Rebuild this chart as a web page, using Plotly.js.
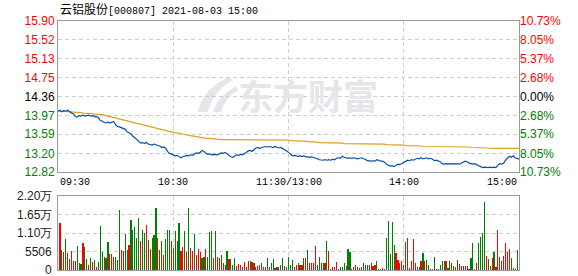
<!DOCTYPE html>
<html><head><meta charset="utf-8">
<script src="https://cdn.plot.ly/plotly-3.0.1.min.js"></script>
<style>html,body{margin:0;padding:0;background:#fff;}#chart{width:578px;height:276px;}</style>
</head><body><div id="chart"></div>
<script>
// ---------- data ----------
const titleName = "云铝股份";
const titleCode = "[000807] 2021-08-03 15:00";
const watermarkText = "东方财富";
const preClose = 14.36;

const timeTickIdx = [0, 60, 120, 180, 240];
const timeTickText = ["09:30", "10:30", "11:30/13:00", "14:00", "15:00"];

const priceTicks = [12.82, 13.20, 13.59, 13.97, 14.36, 14.75, 15.13, 15.52, 15.90];
const pctTickText = ["10.73%", "8.05%", "5.37%", "2.68%", "0.00%", "2.68%", "5.37%", "8.05%", "10.73%"];

const volTicks = [0, 5506, 11012, 16518, 22024];
const volTickText = ["0", "5506", "1.10万", "1.65万", "2.20万"];

const price = [
14.06,14.08,14.05,14.07,14.06,14.08,14.05,14.02,14.01,13.95,
13.94,13.97,13.96,13.98,13.96,13.97,13.98,13.96,13.97,13.95,
13.95,13.93,13.87,13.86,13.83,13.82,13.84,13.82,13.83,13.85,
13.78,13.75,13.74,13.72,13.71,13.69,13.64,13.62,13.60,13.55,
13.52,13.49,13.45,13.41,13.42,13.40,13.42,13.39,13.38,13.37,
13.39,13.37,13.36,13.35,13.32,13.33,13.31,13.24,13.20,13.19,
13.17,13.15,13.16,13.14,13.11,13.13,13.15,13.16,13.15,13.17,
13.16,13.18,13.21,13.20,13.22,13.26,13.24,13.20,13.18,13.19,
13.17,13.18,13.18,13.17,13.19,13.21,13.20,13.22,13.19,13.16,
13.13,13.12,13.14,13.17,13.16,13.18,13.17,13.19,13.22,13.25,
13.26,13.24,13.27,13.31,13.32,13.30,13.32,13.33,13.34,13.33,
13.34,13.33,13.32,13.34,13.33,13.31,13.32,13.30,13.28,13.25,
13.22,13.18,13.15,13.16,13.15,13.14,13.15,13.14,13.15,13.13,
13.13,13.12,13.13,13.12,13.11,13.09,13.07,13.06,13.06,13.07,
13.06,13.07,13.06,13.08,13.07,13.10,13.11,13.10,13.14,13.12,
13.11,13.10,13.11,13.10,13.11,13.10,13.09,13.10,13.11,13.09,
13.08,13.05,13.04,13.04,13.05,13.04,13.07,13.05,13.04,13.04,
13.02,12.98,12.96,12.94,12.95,12.93,12.96,12.98,12.97,12.99,
13.02,13.03,13.06,13.05,13.07,13.06,13.08,13.10,13.09,13.11,
13.09,13.10,13.11,13.09,13.10,13.08,13.05,13.06,13.04,13.03,
12.99,12.98,12.99,12.98,12.99,12.98,12.99,12.98,12.99,12.98,
13.00,13.02,13.04,13.03,13.00,12.99,12.98,12.99,12.97,12.94,
12.92,12.91,12.92,12.91,12.91,12.92,12.91,12.92,12.91,12.96,
12.99,12.98,13.00,13.06,13.10,13.14,13.12,13.15,13.11,13.09,
13.08];

const avgPrice = [
14.06,14.06,14.06,14.06,14.06,14.05,14.05,14.05,14.04,14.04,
14.03,14.03,14.03,14.02,14.02,14.02,14.01,14.01,14.01,14.00,
14.00,14.00,13.99,13.99,13.98,13.97,13.96,13.95,13.94,13.93,
13.92,13.91,13.91,13.90,13.89,13.88,13.87,13.86,13.85,13.84,
13.83,13.82,13.81,13.80,13.79,13.78,13.77,13.76,13.75,13.74,
13.73,13.72,13.71,13.70,13.69,13.68,13.67,13.66,13.65,13.64,
13.63,13.62,13.62,13.61,13.60,13.59,13.58,13.58,13.57,13.56,
13.55,13.55,13.54,13.53,13.52,13.52,13.51,13.51,13.50,13.50,
13.50,13.49,13.49,13.49,13.48,13.48,13.48,13.48,13.47,13.47,
13.47,13.47,13.47,13.47,13.47,13.47,13.47,13.47,13.47,13.47,
13.47,13.47,13.47,13.47,13.47,13.47,13.47,13.47,13.47,13.47,
13.47,13.47,13.47,13.47,13.47,13.47,13.47,13.47,13.47,13.47,
13.47,13.46,13.46,13.46,13.46,13.46,13.45,13.45,13.45,13.45,
13.44,13.44,13.44,13.43,13.43,13.43,13.42,13.42,13.42,13.42,
13.42,13.41,13.41,13.41,13.41,13.41,13.41,13.41,13.41,13.40,
13.40,13.40,13.40,13.40,13.40,13.40,13.40,13.40,13.40,13.40,
13.40,13.40,13.40,13.40,13.40,13.39,13.39,13.39,13.39,13.39,
13.39,13.38,13.38,13.38,13.38,13.38,13.38,13.37,13.37,13.37,
13.37,13.36,13.36,13.36,13.36,13.36,13.35,13.35,13.35,13.35,
13.34,13.34,13.34,13.34,13.34,13.34,13.34,13.34,13.34,13.34,
13.34,13.34,13.34,13.34,13.34,13.33,13.33,13.33,13.33,13.33,
13.33,13.33,13.33,13.33,13.33,13.32,13.32,13.32,13.32,13.32,
13.32,13.32,13.31,13.31,13.31,13.30,13.30,13.30,13.30,13.30,
13.30,13.30,13.30,13.30,13.30,13.30,13.30,13.30,13.30,13.30,
13.30];

const volume = [
0,
14000,6000,5300,9200,5000,3300,5700,2800,2800,7100,2100,1800,8000,6900,3300,1500,3600,2400,3000,1000,
2400,13100,5400,4000,3600,8400,4800,4800,4000,3800,3100,17900,6100,5700,10800,6100,7500,14900,11900,
12900,9500,15500,8700,11900,10900,13400,8900,6200,9600,10400,18500,9600,6100,8600,4600,9200,11900,11800,8700,
6500,11700,8600,13900,5700,6900,11500,5500,18600,6600,5700,10700,4400,6400,5400,3600,3900,6200,3800,11400,
11700,3600,
11700,3970,3570,4560,2180,1590,5750,3170,3170,1390,3570,1190,1790,1590,990,2380,990,2780,2580,2380,
1980,790,1190,1590,2180,790,790,3570,790,1980,3170,600,790,990,1590,3570,1190,990,3800,
1490,2980,1010,1390,2180,1390,1390,3470,3470,5950,
2180,2180,2180,7140,1390,3770,2180,1980,1980,8630,
5650,300,1010,800,2380,300,1010,1010,1980,1290,
6250,5360,400,1010,1390,1010,500,1010,1980,1390,
1590,1390,1980,1290,1490,2580,300,300,600,400,
9520,14580,4760,14290,7500,5160,2980,2180,2680,1490,
8230,9520,500,2680,9230,2180,1010,1010,2680,4960,
2680,2980,1490,200,200,3770,400,200,1390,2680,
2680,2580,700,2780,1980,1290,990,2980,1790,1090,
1190,1090,1090,300,3570,8040,400,2080,7940,9720,
11100,20300,4270,3170,1290,3570,5260,990,11900,3770,
2780,4270,7940,5460,6350,3570,600,300,6050,0];

// R = up minute (red), G = down minute (green)
const volumeDir = ("G" +
 "RGRGRGRRRGGGRGGRGRGRGGGRGGRRRGGGRRGGRGG" +
 "GGGRGGRGRGGGRRGRGGGRGGGGRRGRGRRGRRRGGRGGGR" +
 "GRRGRRGRGGGRRRGRRRRGRRRRGRRGRGGRGRGGRGG" +
 "GGRRGRRGRG" + "RRRRGGGGRG" + "RRRRRRGGGR" + "GGGRRGRRGG" +
 "RRGRRGRRRR" + "GGGGGRRRRR" + "GRRRRRGGRG" + "RGGRRGRRGG" +
 "GRGGRGRGRR" + "RRRGGGGRGG" + "GGRGRRGRRR" + "GRRRRGRRGG").split("");

// ---------- build ----------
const idx = price.map((_, i) => i);
const RED = "#ff0000", GREEN = "#008000", DARK = "#000000";
const colFor = v => v > preClose ? RED : (v < preClose ? GREEN : DARK);
const priceTickText = priceTicks.map(v => `<span style="color:${colFor(v)}">${v.toFixed(2)}</span>`);
const pctText = priceTicks.map((v, k) => `<span style="color:${colFor(v)}">${pctTickText[k]}</span>`);
const barColors = volumeDir.map(d => d === "R" ? RED : GREEN);

const W = 578, H = 276, L = 58, R = 59, T = 21, B = 6;
const plotW = W - L - R, plotH = H - T - B;
const px2x = px => (px - L) / plotW;
const py2y = py => (H - B - py) / plotH;
const priceDomain = [py2y(172), 1];
const volDomain = [0, py2y(196)];

const gridCol = "#cfcfcf", gridDash = "4px,3px", lineCol = "#9a9a9a";
const tickFont = {family: "Liberation Sans, Arial, sans-serif", size: 12, color: "#111"};

const traces = [
  {x: idx, y: avgPrice, type: "scatter", mode: "lines", xaxis: "x", yaxis: "y",
   line: {color: "#e0a020", width: 1.2}, hoverinfo: "skip"},
  {x: idx, y: price, type: "scatter", mode: "lines", xaxis: "x", yaxis: "y",
   line: {color: "#0b4fa3", width: 1.2}, hoverinfo: "skip"},
  {x: [0], y: [preClose], type: "scatter", mode: "markers", xaxis: "x", yaxis: "y2",
   marker: {opacity: 0}, hoverinfo: "skip"},
  {x: idx, y: volume, type: "bar", xaxis: "x2", yaxis: "y3", width: 0.6,
   marker: {color: barColors, line: {width: 0}}, hoverinfo: "skip"}
];

const annotations = [
  {xref: "paper", yref: "paper", x: 0, y: py2y(8), xanchor: "left", yanchor: "middle", showarrow: false,
   text: `<span style="font-family:'Noto Sans CJK SC';font-size:12px">${titleName}</span>${titleCode}`,
   font: {family: "Liberation Mono, monospace", size: 10, color: "#000"}},
  {xref: "paper", yref: "paper", x: px2x(308), y: py2y(94), xanchor: "center", yanchor: "middle", showarrow: false,
   text: `<b>${watermarkText}</b>`, font: {family: "Noto Sans CJK SC", size: 35, color: "#e6e6ea"}}
];
timeTickIdx.forEach((t, k) => {
  annotations.push({xref: "x", yref: "paper", x: t, y: py2y(182), showarrow: false,
    xanchor: k === 0 ? "left" : (k === timeTickIdx.length - 1 ? "right" : "center"), yanchor: "middle",
    text: timeTickText[k], font: {family: "Liberation Mono, monospace", size: 10, color: "#000"}});
});
volTicks.forEach((v, k) => {
  annotations.push({xref: "paper", yref: "y3", x: 0, y: v, xshift: -4, showarrow: false,
    xanchor: "right", yanchor: "middle", text: volTickText[k],
    font: {family: tickFont.family, size: 12, color: "#222"}});
});

const logoPaths = [
  [[198,112],[202,89],[229,77],[233,80],[212,92],[208,112]],
  [[213,112],[217,97],[236,86],[238,90],[224,99],[221,112]]
];
const shapes = logoPaths.map(p => ({
  type: "path", xref: "paper", yref: "paper", layer: "below",
  path: `M ${px2x(p[0][0])},${py2y(p[0][1])} Q ${px2x(p[1][0])},${py2y(p[1][1])} ${px2x(p[2][0])},${py2y(p[2][1])} ` +
        `L ${px2x(p[3][0])},${py2y(p[3][1])} Q ${px2x(p[4][0])},${py2y(p[4][1])} ${px2x(p[5][0])},${py2y(p[5][1])} Z`,
  fillcolor: "#e6e6ea", line: {width: 0}
}));

const xCommon = {range: [0, 240], tickvals: [60, 120, 180], showticklabels: false, ticks: "",
  showgrid: true, gridcolor: gridCol, griddash: gridDash, zeroline: false,
  showline: true, mirror: true, linecolor: lineCol, linewidth: 1, fixedrange: true};

const layout = {
  width: W, height: H, margin: {l: L, r: R, t: T, b: B, pad: 0},
  paper_bgcolor: "#fff", plot_bgcolor: "#fff", showlegend: false, bargap: 0,
  font: tickFont,
  xaxis: Object.assign({}, xCommon, {domain: [0, 1], anchor: "y"}),
  xaxis2: Object.assign({}, xCommon, {domain: [0, 1], anchor: "y3"}),
  yaxis: {domain: priceDomain, anchor: "x", range: [12.82, 15.90], tickvals: priceTicks, ticktext: priceTickText,
    tickfont: tickFont, ticks: "", ticklabeloverflow: "allow", showgrid: true, gridcolor: gridCol, griddash: gridDash,
    zeroline: false, showline: true, mirror: true, linecolor: lineCol, linewidth: 1},
  yaxis2: {overlaying: "y", side: "right", anchor: "x", range: [12.82, 15.90], tickvals: priceTicks, ticktext: pctText,
    tickfont: tickFont, ticks: "", ticklabeloverflow: "allow", showgrid: false, zeroline: false, showline: false},
  yaxis3: {domain: volDomain, anchor: "x2", range: [0, 22024], tickvals: volTicks, showticklabels: false,
    ticks: "", showgrid: true, gridcolor: gridCol, griddash: gridDash, zeroline: false,
    showline: true, mirror: true, linecolor: lineCol, linewidth: 1},
  annotations: annotations,
  shapes: shapes
};

Plotly.newPlot("chart", traces, layout, {staticPlot: true, displayModeBar: false});
</script></body></html>
